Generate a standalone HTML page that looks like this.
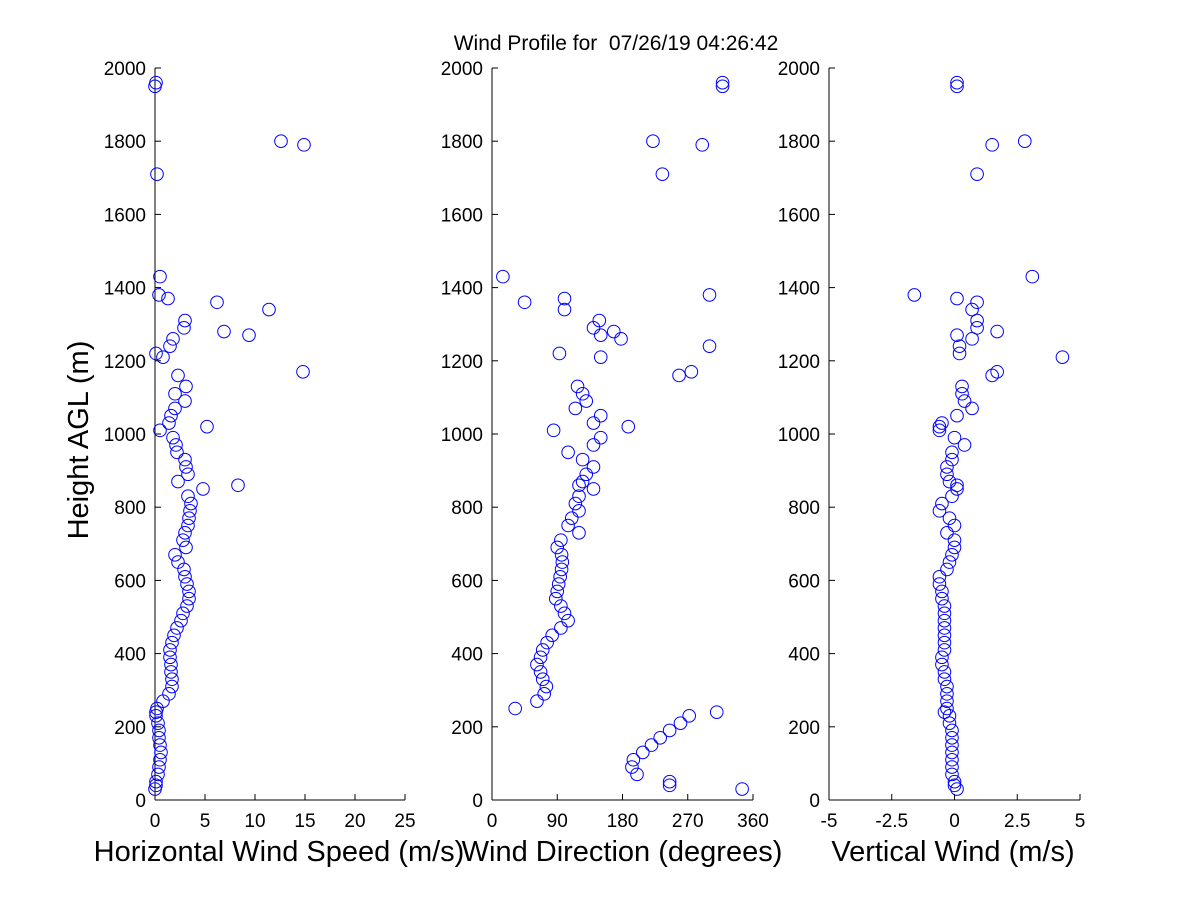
<!DOCTYPE html>
<html><head><meta charset="utf-8"><style>
html,body{margin:0;padding:0;background:#fff}
svg{display:block;font-family:"Liberation Sans",Arial,sans-serif}
</style></head><body>
<svg id="chart" width="1200" height="900" viewBox="0 0 1200 900">
<rect width="1200" height="900" fill="#fff"/>
<text x="616" y="50" font-size="21" text-anchor="middle" xml:space="preserve" style="white-space:pre">Wind Profile for  07/26/19 04:26:42</text>
<g id="plots"></g>
</svg>
<script>
const heights = [30,50,70,90,110,130,150,170,190,210,230,250,270,290,310,330,350,370,390,410,430,450,470,490,510,530,550,570,590,610,630,650,670,690,710,730,750,770,790,810,830,850,870,890,910,930,950,970,990,1010,1030,1050,1070,1090,1110,1130,
  240,860,1020,1160,1170,1210,1220,1240,1260,1270,1280,1290,1310,1340,1360,1370,1380,1430,1710,1790,1800,1950,1960,40];
const speedValues = [0.0,0.1,0.3,0.4,0.5,0.6,0.5,0.4,0.4,0.3,0.1,0.2,0.8,1.4,1.7,1.7,1.6,1.6,1.5,1.5,1.7,1.9,2.2,2.6,2.8,3.2,3.4,3.4,3.2,3.0,2.9,2.3,2.0,3.1,2.8,3.0,3.3,3.4,3.5,3.6,3.3,4.8,2.3,3.3,3.1,3.0,2.2,2.1,1.8,0.5,1.4,1.6,2.0,3.0,2.0,3.1,
  0.1,8.3,5.2,2.3,14.8,0.8,0.1,1.5,1.8,9.4,6.9,2.9,3.0,11.4,6.2,1.3,0.4,0.5,0.2,14.9,12.6,0.0,0.1,0.1];
const directionValues = [345,245,200,193,195,208,220,232,245,260,272,32,62,72,75,70,67,62,67,70,76,83,95,105,100,95,88,90,92,94,96,97,96,90,95,120,105,110,120,115,120,140,125,130,140,125,105,140,150,85,140,150,115,130,125,118,
  310,120,188,258,275,150,93,300,178,150,168,140,148,100,45,100,300,15,235,290,222,318,318,245];
const verticalValues = [0.1,0.0,-0.1,-0.1,-0.1,-0.1,-0.1,-0.1,-0.1,-0.2,-0.2,-0.3,-0.3,-0.3,-0.3,-0.4,-0.4,-0.5,-0.5,-0.4,-0.4,-0.4,-0.4,-0.4,-0.4,-0.4,-0.5,-0.5,-0.6,-0.6,-0.3,-0.2,-0.1,0.0,0.0,-0.3,0.0,-0.2,-0.6,-0.5,-0.1,0.1,-0.2,-0.3,-0.3,-0.1,-0.1,0.4,0.0,-0.6,-0.5,0.1,0.7,0.4,0.3,0.3,
  -0.4,0.1,-0.6,1.5,1.7,4.3,0.2,0.2,0.7,0.1,1.7,0.9,0.9,0.7,0.9,0.1,-1.6,3.1,0.9,1.5,2.8,0.1,0.1,0.0];
const yTicks = [0,200,400,600,800,1000,1200,1400,1600,1800,2000];
const speedTicks = [0,5,10,15,20,25];
const dirTicks = [0,90,180,270,360];
const vertTicks = [-5,-2.5,0,2.5,5];
const vertTickLabels = ['-5','-2.5','0','2.5','5'];

const NS='http://www.w3.org/2000/svg';
const g=document.getElementById('plots');
const yTop=68, yBot=800;
function yScale(h){return yBot-(h/2000)*(yBot-yTop);}
function mk(tag,attrs,parent){const e=document.createElementNS(NS,tag);for(const k in attrs)e.setAttribute(k,attrs[k]);(parent||g).appendChild(e);return e;}

const panels=[
 {key:'speed',x0:155,x1:405,min:0,max:25,ticks:speedTicks,labels:speedTicks.map(String),vals:speedValues,label:'Horizontal Wind Speed (m/s)',lx:279},
 {key:'direction',x0:492,x1:753,min:0,max:360,ticks:dirTicks,labels:dirTicks.map(String),vals:directionValues,label:'Wind Direction (degrees)',lx:622},
 {key:'vertical',x0:829,x1:1080,min:-5,max:5,ticks:vertTicks,labels:vertTickLabels,vals:verticalValues,label:'Vertical Wind (m/s)',lx:953}
];
panels.forEach((p,pi)=>{
  const pg=mk('g',{});
  
  
  const xs=v=>p.x0+(v-p.min)/(p.max-p.min)*(p.x1-p.x0);
  const ax=mk('line',{x1:p.x0,y1:yTop,x2:p.x0,y2:yBot,stroke:'#000','stroke-width':1},pg);
  
  
  const bx=mk('line',{x1:p.x0,y1:yBot,x2:p.x1,y2:yBot,stroke:'#000','stroke-width':1},pg);
  
  
  yTicks.forEach(t=>{
    const y=yScale(t);
    mk('line',{x1:p.x0,y1:y,x2:p.x0+6,y2:y,stroke:'#000'},pg);
    const tx=mk('text',{x:p.x0-9,y:y+7,'font-size':19,'text-anchor':'end'},pg);
    tx.textContent=t;
    
    
  });
  p.ticks.forEach((t,i)=>{
    const x=xs(t);
    mk('line',{x1:x,y1:yBot,x2:x,y2:yBot-6,stroke:'#000'},pg);
    const tx=mk('text',{x:x,y:yBot+27,'font-size':19,'text-anchor':'middle'},pg);
    tx.textContent=p.labels[i];
    
    
  });
  const xl=mk('text',{x:p.lx,y:861,'font-size':29,'text-anchor':'middle'},pg);
  xl.textContent=p.label;
  
  
  heights.forEach((h,i)=>{
    const c=mk('circle',{cx:xs(p.vals[i]),cy:yScale(h),r:6.3,fill:'none',stroke:'#0000ff','stroke-width':1},pg);
    
    
  });
});
const yl=mk('text',{x:0,y:0,'font-size':29,'text-anchor':'middle',transform:'translate(88,440) rotate(-90)'});
yl.textContent='Height AGL (m)';


</script>
</body></html>
